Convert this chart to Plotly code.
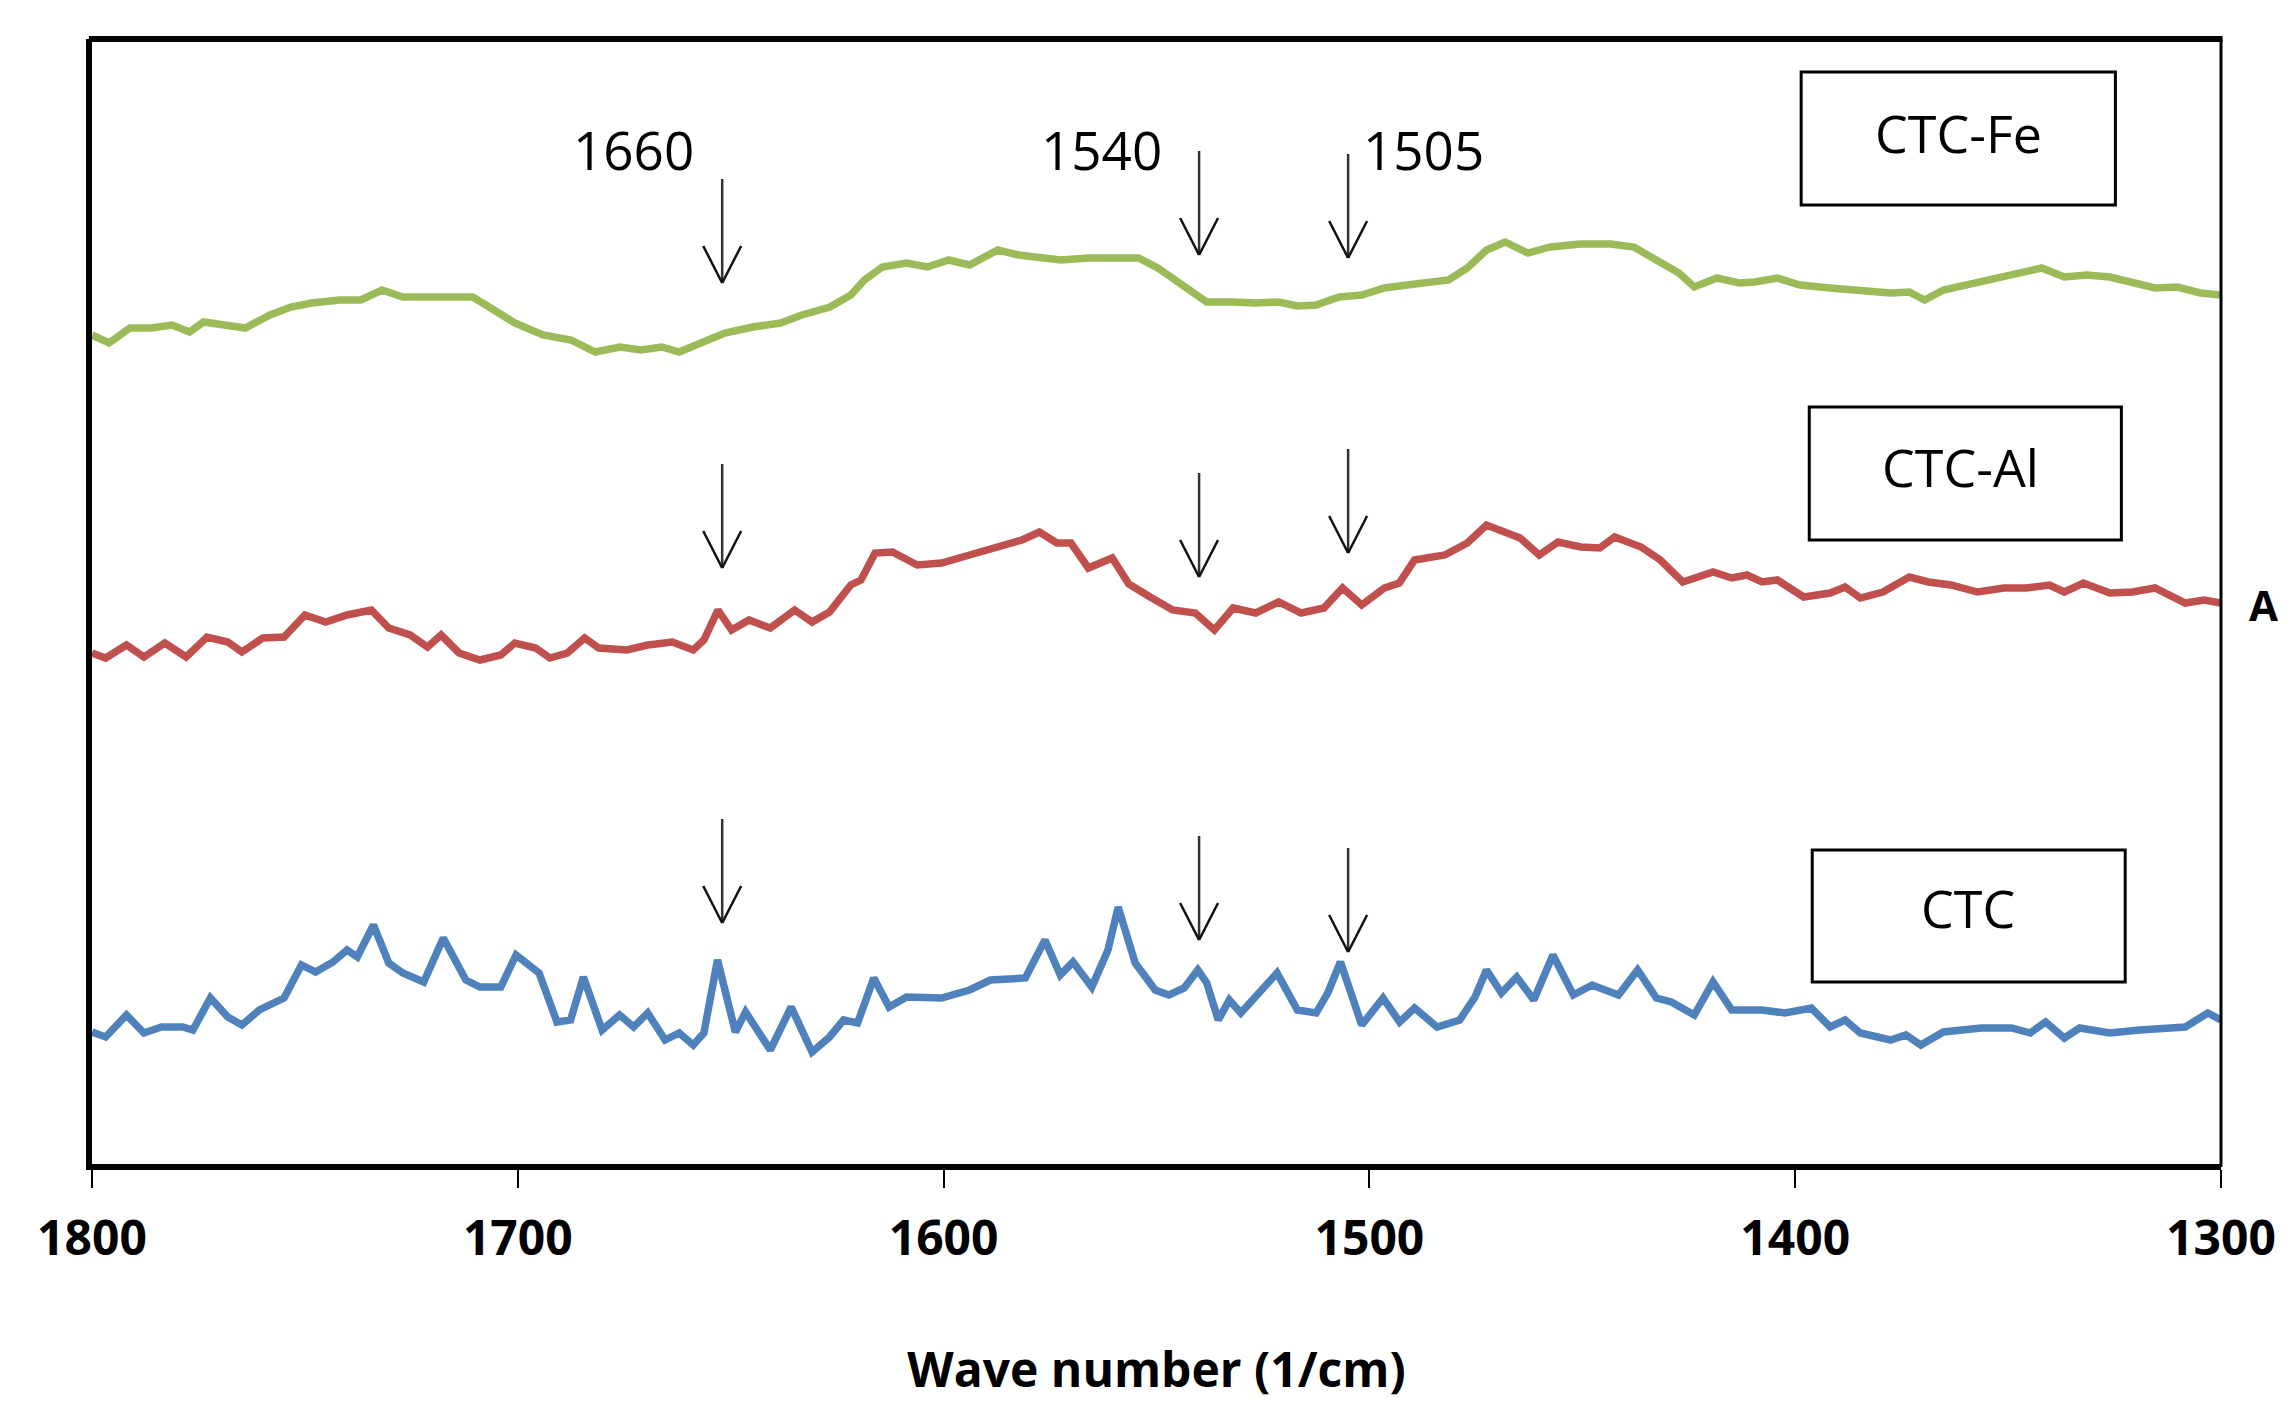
import plotly.graph_objects as go

# ---------------- data ----------------
wn_fe = [1800.0, 1796.0, 1791.1, 1786.1, 1781.2, 1777.1, 1773.8, 1769.7, 1764.0, 1758.2,
         1753.3, 1748.4, 1741.8, 1736.9, 1731.9, 1727.0, 1720.4, 1710.6, 1705.6, 1700.7,
         1694.1, 1687.5, 1681.8, 1676.0, 1671.1, 1666.2, 1662.1, 1658.0, 1651.4, 1644.8,
         1638.3, 1633.3, 1626.7, 1621.8, 1618.6, 1614.4, 1608.7, 1603.8, 1598.8, 1593.9,
         1587.3, 1582.4, 1577.5, 1572.5, 1566.0, 1559.4, 1554.2, 1549.7, 1544.4, 1538.2,
         1532.0, 1526.7, 1521.3, 1516.9, 1512.5, 1507.1, 1501.8, 1496.5, 1491.2, 1485.8,
         1481.4, 1477.0, 1472.5, 1468.1, 1462.8, 1457.5, 1450.4, 1443.3, 1437.9, 1432.6,
         1427.3, 1423.7, 1418.4, 1413.1, 1409.5, 1404.2, 1398.9, 1391.8, 1384.7, 1377.6,
         1373.2, 1369.6, 1365.2, 1359.9, 1354.5, 1348.3, 1342.1, 1336.8, 1331.5, 1326.1,
         1320.8, 1315.5, 1310.2, 1304.8, 1300.0]
abs_fe = [8.29, 8.21, 8.36, 8.36, 8.39, 8.32, 8.42, 8.39, 8.36, 8.49,
          8.57, 8.61, 8.64, 8.64, 8.74, 8.67, 8.67, 8.67, 8.54, 8.41,
          8.29, 8.24, 8.12, 8.17, 8.14, 8.17, 8.12, 8.19, 8.31, 8.37,
          8.41, 8.49, 8.57, 8.69, 8.84, 8.97, 9.01, 8.97, 9.04, 8.99,
          9.14, 9.09, 9.07, 9.04, 9.06, 9.06, 9.06, 8.96, 8.81, 8.62,
          8.62, 8.61, 8.62, 8.58, 8.59, 8.67, 8.69, 8.76, 8.79, 8.82,
          8.84, 8.96, 9.14, 9.22, 9.11, 9.17, 9.20, 9.20, 9.17, 9.04,
          8.91, 8.77, 8.86, 8.81, 8.82, 8.86, 8.79, 8.76, 8.73, 8.71,
          8.72, 8.64, 8.74, 8.79, 8.86, 8.91, 8.96, 8.87, 8.89, 8.87,
          8.82, 8.76, 8.77, 8.71, 8.69]

wn_al = [1800.0, 1796.8, 1791.9, 1787.8, 1782.9, 1777.9, 1773.0, 1768.1, 1764.8, 1759.9,
         1754.9, 1750.0, 1745.1, 1740.1, 1734.4, 1730.3, 1725.3, 1721.2, 1718.0, 1713.8,
         1708.9, 1704.0, 1700.7, 1695.8, 1692.5, 1688.4, 1684.3, 1681.0, 1674.4, 1669.5,
         1663.7, 1658.8, 1656.3, 1653.0, 1649.8, 1645.7, 1640.7, 1635.0, 1630.9, 1626.8,
         1621.8, 1619.4, 1616.1, 1612.0, 1606.2, 1600.5, 1593.9, 1587.3, 1581.6, 1577.5,
         1573.4, 1570.1, 1566.0, 1560.4, 1556.5, 1551.5, 1546.2, 1540.9, 1536.4, 1532.0,
         1526.7, 1521.3, 1516.0, 1510.7, 1506.3, 1501.8, 1496.5, 1493.0, 1489.4, 1482.3,
         1477.0, 1472.5, 1468.1, 1464.6, 1460.1, 1455.7, 1450.4, 1445.9, 1442.4, 1436.2,
         1431.7, 1426.4, 1419.3, 1414.9, 1411.3, 1407.8, 1404.2, 1398.0, 1391.8, 1388.3,
         1384.7, 1379.4, 1373.2, 1368.7, 1363.4, 1357.2, 1351.0, 1345.7, 1340.3, 1336.8,
         1332.3, 1326.1, 1320.8, 1315.5, 1308.4, 1304.0, 1300.0]
abs_al = [5.11, 5.06, 5.19, 5.07, 5.21, 5.07, 5.27, 5.22, 5.12, 5.26,
          5.27, 5.49, 5.42, 5.49, 5.54, 5.36, 5.29, 5.17, 5.29, 5.11,
          5.04, 5.09, 5.21, 5.16, 5.06, 5.11, 5.26, 5.16, 5.14, 5.19,
          5.22, 5.14, 5.24, 5.54, 5.34, 5.44, 5.36, 5.54, 5.42, 5.52,
          5.79, 5.84, 6.11, 6.12, 5.99, 6.01, 6.09, 6.17, 6.24, 6.32,
          6.21, 6.21, 5.96, 6.06, 5.80, 5.67, 5.54, 5.51, 5.34, 5.56,
          5.51, 5.62, 5.51, 5.56, 5.76, 5.59, 5.76, 5.81, 6.04, 6.09,
          6.21, 6.39, 6.31, 6.26, 6.09, 6.22, 6.17, 6.16, 6.27, 6.17,
          6.04, 5.82, 5.92, 5.86, 5.89, 5.82, 5.84, 5.67, 5.71, 5.77,
          5.66, 5.72, 5.87, 5.82, 5.79, 5.72, 5.76, 5.76, 5.79, 5.72,
          5.81, 5.71, 5.72, 5.76, 5.61, 5.64, 5.61]

wn_ctc = [1800.0, 1796.8, 1791.9, 1787.8, 1783.7, 1778.7, 1776.3, 1772.2, 1768.1, 1764.8,
          1760.7, 1754.9, 1750.8, 1747.5, 1743.4, 1740.1, 1737.7, 1733.9, 1730.3, 1727.0,
          1722.1, 1717.5, 1712.2, 1708.9, 1704.0, 1700.4, 1695.0, 1690.8, 1687.6, 1684.6,
          1680.2, 1676.1, 1672.8, 1669.5, 1665.4, 1662.1, 1658.8, 1656.3, 1653.1, 1648.9,
          1646.5, 1640.7, 1635.8, 1630.9, 1626.8, 1623.5, 1620.2, 1616.4, 1612.8, 1608.7,
          1600.5, 1593.9, 1589.0, 1580.8, 1576.2, 1572.6, 1569.6, 1565.2, 1561.4, 1559.0,
          1555.0, 1550.3, 1547.1, 1543.5, 1540.3, 1538.2, 1535.5, 1532.9, 1530.2, 1526.7,
          1521.7, 1516.9, 1512.5, 1509.8, 1506.8, 1501.8, 1496.8, 1492.9, 1489.4, 1484.1,
          1478.8, 1475.2, 1472.5, 1469.0, 1465.4, 1461.4, 1456.9, 1452.1, 1447.7, 1441.5,
          1437.0, 1432.6, 1429.1, 1423.7, 1419.3, 1414.9, 1407.8, 1402.4, 1396.2, 1391.8,
          1388.3, 1384.7, 1377.6, 1374.0, 1370.5, 1365.2, 1356.3, 1349.2, 1344.8, 1341.2,
          1336.8, 1333.2, 1326.1, 1319.1, 1308.4, 1303.1, 1300.0]
abs_ctc = [1.32, 1.27, 1.49, 1.31, 1.37, 1.37, 1.34, 1.66, 1.47, 1.39,
           1.54, 1.66, 1.99, 1.92, 2.02, 2.14, 2.07, 2.39, 2.01, 1.91,
           1.82, 2.26, 1.84, 1.77, 1.77, 2.09, 1.91, 1.42, 1.44, 1.87,
           1.34, 1.49, 1.37, 1.51, 1.24, 1.31, 1.19, 1.31, 2.04, 1.32,
           1.52, 1.14, 1.57, 1.12, 1.27, 1.44, 1.41, 1.86, 1.57, 1.67,
           1.66, 1.74, 1.84, 1.86, 2.24, 1.89, 2.02, 1.77, 2.14, 2.57,
           2.01, 1.74, 1.69, 1.76, 1.94, 1.81, 1.44, 1.64, 1.51, 1.67,
           1.91, 1.54, 1.51, 1.71, 2.02, 1.39, 1.66, 1.42, 1.56, 1.37,
           1.44, 1.67, 1.94, 1.71, 1.87, 1.64, 2.09, 1.69, 1.79, 1.69,
           1.94, 1.66, 1.62, 1.49, 1.82, 1.54, 1.54, 1.51, 1.56, 1.37,
           1.44, 1.31, 1.24, 1.29, 1.19, 1.32, 1.36, 1.36, 1.31, 1.42,
           1.26, 1.36, 1.31, 1.34, 1.37, 1.51, 1.44]

series_names = ["CTC-Fe", "CTC-Al", "CTC"]
x_ticks = [1800, 1700, 1600, 1500, 1400, 1300]
peak_labels = ["1660", "1540", "1505"]
peak_label_pos = [1672.8, 1563.0, 1487.3]   # wave number where label text is centred
arrow_wn = [1652, 1540, 1505]
arrow_tips = {  # absorbance (a.u.) where each arrow tip points
    "CTC-Fe": [8.81, 9.09, 9.06],
    "CTC-Al": [5.96, 5.87, 6.11],
    "CTC": [2.41, 2.24, 2.12],
}

# ---------------- figure ----------------
W, H = 2288, 1402
ML, MR, MT, MB = 92, 61, 39, 238
PW, PH = W - ML - MR, H - MT - MB
X_RANGE = [1800, 1300]
Y_RANGE = [0, 11.25]
xpp = abs(X_RANGE[1] - X_RANGE[0]) / PW   # wave number per pixel
ypp = (Y_RANGE[1] - Y_RANGE[0]) / PH      # absorbance per pixel

colors = {"CTC-Fe": "#9BBB59", "CTC-Al": "#C0504D", "CTC": "#4F81BD"}
data = {"CTC-Fe": (wn_fe, abs_fe), "CTC-Al": (wn_al, abs_al), "CTC": (wn_ctc, abs_ctc)}

fig = go.Figure()
for name in series_names:
    xs, ys = data[name]
    fig.add_trace(go.Scatter(x=xs, y=ys, mode="lines", name=name,
                             line=dict(color=colors[name], width=7.5)))

shapes = []
# arrows: shaft + open V head
shaft_px, head_len_px, head_half_px = 104, 37, 19
for name in series_names:
    for xw, tip in zip(arrow_wn, arrow_tips[name]):
        shapes.append(dict(type="line", xref="x", yref="y", x0=xw, x1=xw,
                           y0=tip, y1=tip + shaft_px * ypp,
                           line=dict(color="#333333", width=2.5)))
        for s in (-1, 1):
            shapes.append(dict(type="line", xref="x", yref="y",
                               x0=xw, y0=tip,
                               x1=xw + s * head_half_px * xpp, y1=tip + head_len_px * ypp,
                               line=dict(color="#111111", width=2.5)))

# frame: top and right borders
shapes.append(dict(type="line", xref="paper", yref="paper", x0=-3 / PW, x1=1 + 1.5 / PW,
                   y0=1, y1=1, line=dict(color="black", width=6)))
shapes.append(dict(type="line", xref="paper", yref="paper", x0=1, x1=1,
                   y0=-3 / PH, y1=1, line=dict(color="black", width=3)))

# label boxes (paper coords)
boxes = {
    "CTC-Fe": (0.8028, 0.9504, 0.8524, 0.9707, 0.8768, 0.9173),
    "CTC-Al": (0.8066, 0.9532, 0.5547, 0.6729, 0.8778, 0.6204),
    "CTC": (0.8080, 0.9550, 0.1618, 0.2791, 0.8810, 0.2284),
}
annotations = []
for name in series_names:
    x0, x1, y0, y1, tx, ty = boxes[name]
    shapes.append(dict(type="rect", xref="paper", yref="paper", x0=x0, x1=x1, y0=y0, y1=y1,
                       line=dict(color="black", width=3), fillcolor="rgba(0,0,0,0)"))
    annotations.append(dict(xref="paper", yref="paper", x=tx, y=ty, text=name, showarrow=False,
                            xanchor="center", yanchor="middle",
                            font=dict(family="Open Sans", size=52, color="black")))

for lab, pos in zip(peak_labels, peak_label_pos):
    annotations.append(dict(xref="x", yref="y", x=pos, y=10.15, text=lab, showarrow=False,
                            xanchor="center", yanchor="middle",
                            font=dict(family="Open Sans", size=53, color="black")))

# axis letter at the right edge
annotations.append(dict(xref="paper", yref="paper", x=1.0, y=0.497, text="A",
                        showarrow=False, xanchor="left", yanchor="middle", xshift=26,
                        font=dict(family="Open Sans", size=42, color="black", weight="bold")))

fig.update_layout(
    width=W, height=H, autosize=False,
    margin=dict(l=ML, r=MR, t=MT, b=MB, pad=0),
    plot_bgcolor="white", paper_bgcolor="white",
    showlegend=False,
    shapes=shapes, annotations=annotations,
    xaxis=dict(range=X_RANGE, tickmode="array", tickvals=x_ticks,
               ticktext=[str(t) for t in x_ticks],
               ticks="outside", ticklen=18, tickwidth=2, tickcolor="black",
               ticklabelstandoff=9,
               showline=True, linewidth=6, linecolor="black",
               showgrid=False, zeroline=False,
               tickfont=dict(family="Open Sans", size=48, color="black", weight="bold"),
               title=dict(text="Wave number (1/cm)", standoff=88,
                          font=dict(family="Open Sans", size=48, color="black", weight="bold"))),
    yaxis=dict(range=Y_RANGE, showline=True, linewidth=6, linecolor="black",
               showticklabels=False, ticks="", showgrid=False, zeroline=False),
)

fig.write_html("out.html")
